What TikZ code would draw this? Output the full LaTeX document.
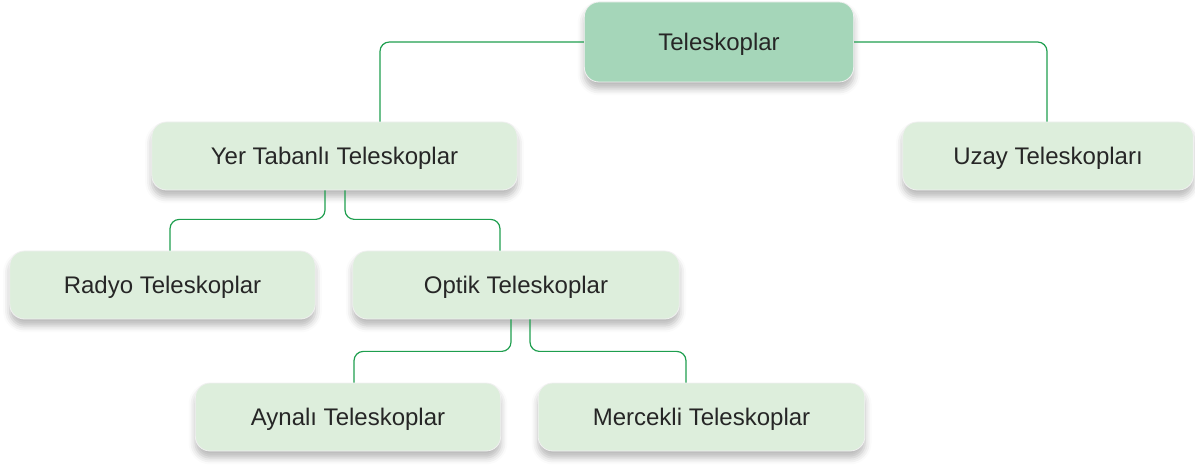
\documentclass[tikz,border=0pt]{standalone}
\usepackage{fontspec}
\setmainfont{Liberation Sans}
\usetikzlibrary{calc,shadows.blur}

\definecolor{rootfill}{HTML}{A5D6B9}
\definecolor{boxfill}{HTML}{DDEEDC}
\definecolor{linegreen}{HTML}{1E9E4E}
\definecolor{textdark}{HTML}{262626}

\begin{document}
\begin{tikzpicture}[
    x=0.75pt, y=-0.75pt,
    box/.style={rectangle, rounded corners=11pt, draw=white!88!gray, line width=0.6pt,
      fill=boxfill, text=textdark, font=\fontsize{18}{22}\selectfont,
      minimum height=51pt, inner sep=0pt, text depth=0pt,
      blur shadow={shadow xshift=0pt, shadow yshift=-5pt, shadow blur radius=5pt, shadow opacity=28}},
    root/.style={box, fill=rootfill, minimum height=60pt},
    conn/.style={draw=linegreen, line width=0.9pt, rounded corners=7pt}
  ]
    \useasboundingbox (0,0) rectangle (1195,466);

    % root and first level
    \node[root, minimum width=202pt] (top) at (719,42) {Teleskoplar};
    \node[box, minimum width=274pt] (yer) at (334.5,156) {Yer Tabanlı Teleskoplar};
    \node[box, minimum width=218pt] (uzay) at (1048,156) {Uzay Teleskopları};

    % second level
    \node[box, minimum width=229pt] (radyo) at (162.5,285) {Radyo Teleskoplar};
    \node[box, minimum width=245pt] (optik) at (516,285) {Optik Teleskoplar};

    % third level
    \node[box, minimum width=229pt] (aynali) at (348,417) {Aynalı Teleskoplar};
    \node[box, minimum width=245pt] (mercekli) at (701.5,417) {Mercekli Teleskoplar};

    % connectors from the root
    \draw[conn] (top.west) -| ($(yer.north)+(45.5,0)$);
    \draw[conn] (top.east) -| ($(uzay.north)+(-1,0)$);

    % connectors below Yer Tabanli
    \draw[conn] ($(yer.south)+(-9.5,0)$) -- ++(0,29) -| ($(radyo.north)+(7.5,0)$);
    \draw[conn] ($(yer.south)+(10.5,0)$) -- ++(0,29) -| ($(optik.north)+(-16,0)$);

    % connectors below Optik
    \draw[conn] ($(optik.south)+(-5,0)$) -- ++(0,32) -| ($(aynali.north)+(6,0)$);
    \draw[conn] ($(optik.south)+(14,0)$) -- ++(0,32) -| ($(mercekli.north)+(-15.5,0)$);

  \end{tikzpicture}
\end{document}
